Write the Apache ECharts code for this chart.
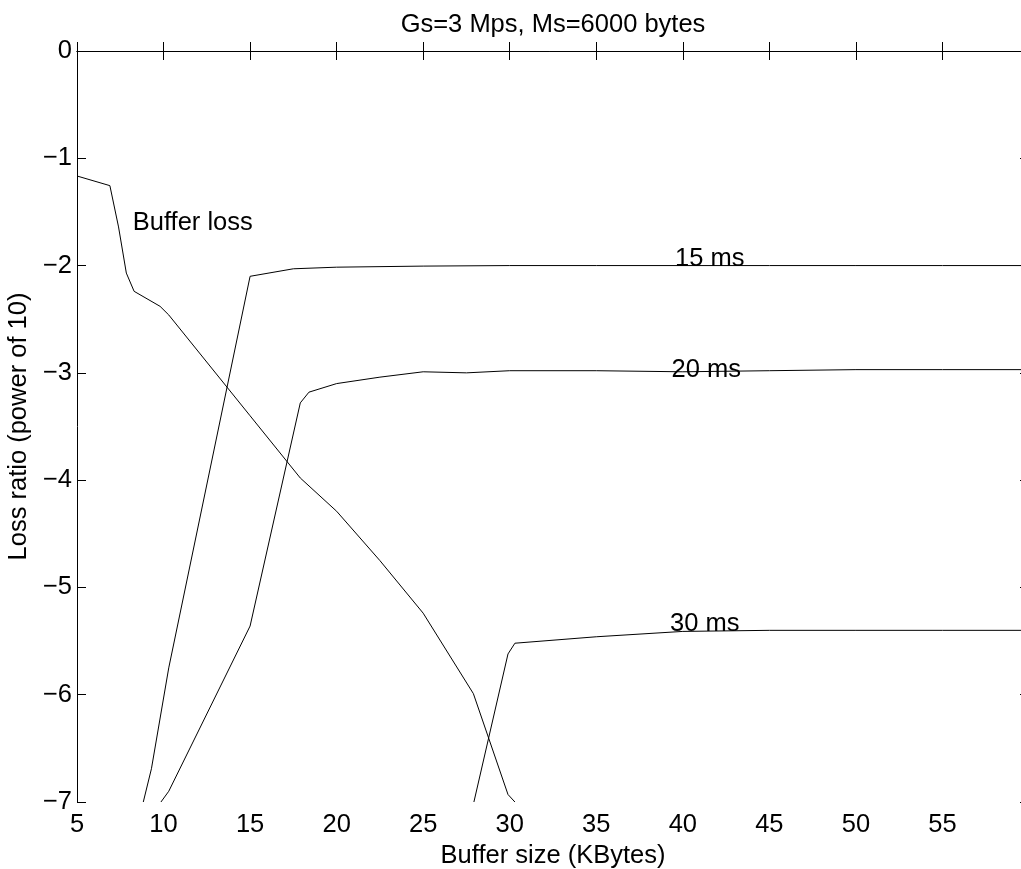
<!DOCTYPE html>
<html>
<head>
<meta charset="utf-8">
<script src="https://cdn.jsdelivr.net/npm/echarts@6/dist/echarts.min.js"></script>
<style>
html,body{margin:0;padding:0;background:#fff;overflow:hidden;}
#c{width:1021px;height:869px;}
</style>
</head>
<body>
<div id="c"></div>
<script>
// ---- data ----
const bufferLoss = [[5,-1.165],[6.9,-1.255],[7.4,-1.64],[7.85,-2.07],[8.3,-2.24],[9.8,-2.38],[10.3,-2.46],[15,-3.4],[17.9,-3.98],[20,-4.29],[22.5,-4.75],[25,-5.24],[27.9,-5.99],[29.9,-6.93],[30.3,-7.0]];
const loss15ms = [[8.83,-7.0],[9.3,-6.69],[10.3,-5.75],[15,-2.1],[17.5,-2.03],[20,-2.015],[25,-2.005],[30,-2.0],[35,-2.0],[40,-2.0],[45,-2.0],[50,-2.0],[55,-2.0],[60,-2.0]];
const loss20ms = [[9.85,-7.0],[10.3,-6.9],[15,-5.36],[17.9,-3.28],[18.4,-3.18],[20,-3.1],[22.5,-3.04],[25,-2.99],[27.5,-3.0],[30,-2.98],[35,-2.98],[40,-2.99],[45,-2.98],[50,-2.97],[55,-2.97],[60,-2.97]];
const loss30ms = [[27.93,-7.0],[29.9,-5.62],[30.3,-5.52],[35,-5.46],[40,-5.41],[45,-5.4],[50,-5.4],[55,-5.4],[60,-5.4]];
const labelTexts = ['Buffer loss','15 ms','20 ms','30 ms'];
const labelX = [8.22, 39.55, 39.35, 39.26];
const labelY = [-1.72, -2.06, -3.095, -5.46];
const titleText = 'Gs=3 Mps, Ms=6000 bytes';
const xName = 'Buffer size (KBytes)';
const yName = 'Loss ratio (power of 10)';
const xMin = 5, xMax = 60, xStep = 5;
const yMin = -7, yMax = 0, yStep = 1;

const FONT = '"Liberation Sans", Arial, Helvetica, sans-serif';
const FS = 25.5;
const chart = echarts.init(document.getElementById('c'), null, {renderer:'canvas'});

const axisLine = {show:true, lineStyle:{color:'#000', width:1}};
const axisTick = {show:true, inside:true, length:9, lineStyle:{color:'#000', width:1}};

const labelData = labelTexts.map((t,i)=>[labelX[i], labelY[i], t]);

const lineSeries = (name, data) => ({
  name, type:'line', data, showSymbol:false, symbol:'none',
  lineStyle:{color:'#000', width:1}, silent:true, animation:false,
  xAxisIndex:0, yAxisIndex:0, clip:true
});

chart.setOption({
  animation:false,
  backgroundColor:'#fff',
  title:{text:titleText, left:553, top:12, textAlign:'center', padding:0,
    textStyle:{fontFamily:FONT, fontSize:FS, fontWeight:'normal', color:'#000'}},
  grid:{left:77, width:952, top:51, height:751, containLabel:false, outerBoundsMode:'none'},
  xAxis:[
    {type:'value', position:'bottom', min:xMin, max:xMax, interval:xStep,
     name:xName, nameLocation:'middle', nameGap:34,
     nameTextStyle:{fontFamily:FONT, fontSize:FS, color:'#000'},
     axisLine, axisTick, splitLine:{show:false},
     axisLabel:{fontFamily:FONT, fontSize:FS, color:'#000', margin:10,
       formatter:v => v >= xMax ? '' : String(v)}},
    {type:'value', position:'top', min:xMin, max:xMax, interval:xStep,
     axisLine, axisTick, splitLine:{show:false}, axisLabel:{show:false}}
  ],
  yAxis:[
    {type:'value', position:'left', min:yMin, max:yMax, interval:yStep,
     name:yName, nameLocation:'middle', nameGap:29, nameRotate:90,
     nameTextStyle:{fontFamily:FONT, fontSize:FS, color:'#000'},
     axisLine, axisTick, splitLine:{show:false},
     axisLabel:{fontFamily:FONT, fontSize:FS, color:'#000', margin:5,
       formatter:v => v < 0 ? '\u2212' + Math.abs(v) : String(v)}},
    {type:'value', position:'right', min:yMin, max:yMax, interval:yStep,
     axisLine, axisTick, splitLine:{show:false}, axisLabel:{show:false}}
  ],
  series:[
    lineSeries('Buffer loss', bufferLoss),
    lineSeries('15 ms', loss15ms),
    lineSeries('20 ms', loss20ms),
    lineSeries('30 ms', loss30ms),
    {type:'scatter', data:labelData, symbolSize:0, silent:true,
     xAxisIndex:0, yAxisIndex:0, itemStyle:{opacity:1},
     label:{show:true, position:[0,0], align:'left', verticalAlign:'bottom',
       fontFamily:FONT, fontSize:FS, color:'#000', textBorderWidth:0, opacity:1,
       formatter:p => p.data[2]}}
  ]
});
</script>
</body>
</html>
